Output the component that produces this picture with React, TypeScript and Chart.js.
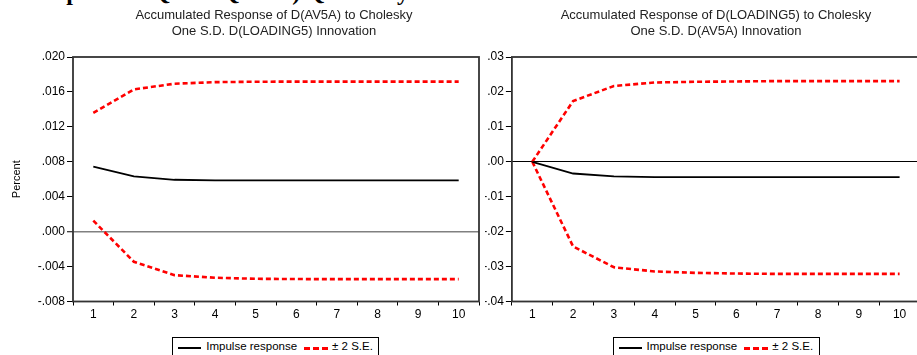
import React, { useEffect, useRef } from 'react';
import { Chart, registerables } from 'chart.js';

Chart.register(...registerables);

const categories = ['1', '2', '3', '4', '5', '6', '7', '8', '9', '10'];

const leftImpulse = [0.00744, 0.00632, 0.00594, 0.00588, 0.00587, 0.00586, 0.00586, 0.00586, 0.00586, 0.00586];
const leftUpper = [0.01361, 0.01629, 0.01694, 0.01712, 0.01717, 0.01718, 0.01718, 0.01718, 0.01718, 0.01718];
const leftLower = [0.00126, -0.00345, -0.00498, -0.00528, -0.0054, -0.00543, -0.00544, -0.00544, -0.00544, -0.00544];

const rightImpulse = [0, -0.00336, -0.0042, -0.0044, -0.0044, -0.0044, -0.0044, -0.0044, -0.0044, -0.0044];
const rightUpper = [0, 0.0174, 0.0217, 0.0227, 0.0229, 0.023, 0.0231, 0.0231, 0.0231, 0.0231];
const rightLower = [0, -0.02425, -0.0302, -0.0314, -0.0318, -0.032, -0.0321, -0.0321, -0.0321, -0.0321];

const leftTitle = ['Accumulated Response of D(AV5A) to Cholesky', 'One S.D. D(LOADING5) Innovation'];
const rightTitle = ['Accumulated Response of D(LOADING5) to Cholesky', 'One S.D. D(AV5A) Innovation'];
const legendLabels = ['Impulse response', '\u00b1 2 S.E.'];
const yAxisTitle = 'Percent';
const topText = 'Impulse to Q and Q total) Quarterly';

const SANS = "Arial, 'Liberation Sans', sans-serif";

const boxPlugin = {
  id: 'plotBox',
  afterDatasetsDraw(chart: any) {
    const { ctx, chartArea: a } = chart;
    ctx.save();
    ctx.strokeStyle = '#333';
    ctx.lineWidth = 1.8;
    ctx.strokeRect(a.left, a.top, a.right - a.left, a.bottom - a.top);
    ctx.restore();
  },
};

function fmt(v: number, d: number) {
  let s = Math.abs(v) < 1e-12 ? (0).toFixed(d) : v.toFixed(d);
  return s.replace('0.', '.');
}

type PanelProps = {
  x: number;
  width: number;
  axisWidth: number;
  padRight: number;
  min: number;
  max: number;
  step: number;
  decimals: number;
  impulse: number[];
  upper: number[];
  lower: number[];
  zeroColor: string;
  zeroWidth: number;
  showTitle: boolean;
};

function Panel(p: PanelProps) {
  const ref = useRef<HTMLCanvasElement | null>(null);
  useEffect(() => {
    const red = '#ff0000';
    const chart = new Chart(ref.current as HTMLCanvasElement, {
      type: 'line',
      data: {
        labels: categories,
        datasets: [
          { data: p.impulse, borderColor: '#000', borderWidth: 1.8, pointRadius: 0, tension: 0, fill: false },
          { data: p.upper, borderColor: red, borderWidth: 2.6, borderDash: [5, 3], pointRadius: 0, tension: 0, fill: false },
          { data: p.lower, borderColor: red, borderWidth: 2.6, borderDash: [5, 3], pointRadius: 0, tension: 0, fill: false },
        ],
      },
      options: {
        animation: false,
        responsive: false,
        maintainAspectRatio: false,
        layout: { padding: { top: 57, right: p.padRight, bottom: 0, left: 0 } },
        plugins: { legend: { display: false }, tooltip: { enabled: false }, title: { display: false } },
        scales: {
          x: {
            type: 'category',
            offset: true,
            grid: { offset: true, drawOnChartArea: false, tickLength: 4, color: '#000', tickColor: '#000', lineWidth: 1 },
            border: { display: false },
            ticks: { padding: 2, color: '#000', font: { family: SANS, size: 12 }, maxRotation: 0, autoSkip: false },
            afterFit: (s: any) => { s.height = 53.5; },
          },
          y: {
            min: p.min,
            max: p.max,
            border: { display: false },
            grid: {
              drawOnChartArea: true,
              color: (c: any) => (c.tick && Math.abs(c.tick.value) < 1e-9 ? p.zeroColor : 'rgba(0,0,0,0)'),
              lineWidth: (c: any) => (c.tick && Math.abs(c.tick.value) < 1e-9 ? p.zeroWidth : 1),
              tickColor: '#000',
              tickWidth: 1,
              tickLength: 6,
            },
            ticks: {
              stepSize: p.step,
              padding: 2,
              color: '#000',
              font: { family: SANS, size: 12 },
              callback: (v: any) => fmt(Number(v), p.decimals),
            },
            title: {
              display: p.showTitle,
              text: yAxisTitle,
              color: '#000',
              font: { family: SANS, size: 11 },
              padding: { top: 10, bottom: 0 },
            },
            afterFit: (s: any) => { s.width = p.axisWidth; },
          },
        },
      } as any,
      plugins: [boxPlugin],
    });
    return () => chart.destroy();
  }, []);
  return (
    <canvas
      ref={ref}
      width={p.width}
      height={355}
      style={{ position: 'absolute', left: p.x, top: 0, display: 'block', width: p.width, height: 355 }}
    />
  );
}

function Title({ lines, center }: { lines: string[]; center: number }) {
  return (
    <div
      style={{
        position: 'absolute',
        left: center - 200,
        width: 400,
        top: 6.7,
        textAlign: 'center',
        fontFamily: SANS,
        fontSize: 13,
        color: '#222',
        whiteSpace: 'nowrap',
      }}
    >
      {lines.map((l, i) => (
        <div key={i} style={{ lineHeight: '16.5px' }}>{l}</div>
      ))}
    </div>
  );
}

function Legend({ center }: { center: number }) {
  return (
    <div
      style={{
        position: 'absolute',
        left: center - 103.5,
        top: 336.7,
        width: 205,
        height: 26,
        border: '1px solid #000',
        boxSizing: 'content-box',
        background: '#fff',
        fontFamily: SANS,
        fontSize: 11.5,
        color: '#000',
      }}
    >
      <div style={{ display: 'flex', alignItems: 'center', height: 15, marginTop: 1, whiteSpace: 'nowrap' }}>
        <div style={{ width: 23, height: 2, background: '#000', marginLeft: 5, marginTop: 4 }} />
        <span style={{ marginLeft: 5 }}>{legendLabels[0]}</span>
        <div
          style={{
            width: 24,
            height: 3,
            marginLeft: 7,
            marginTop: 4,
            background: 'repeating-linear-gradient(90deg, #ff0000 0px, #ff0000 6px, rgba(0,0,0,0) 6px, rgba(0,0,0,0) 9px)',
          }}
        />
        <span style={{ marginLeft: 4 }}>{legendLabels[1]}</span>
      </div>
    </div>
  );
}

export default function App() {
  return (
    <div
      style={{
        position: 'absolute',
        left: 0,
        top: 0,
        width: 917,
        height: 355,
        overflow: 'hidden',
        background: '#fff',
      }}
    >
      <div
        style={{
          position: 'absolute',
          left: 37,
          top: -19.6,
          fontFamily: "'Liberation Serif', 'Times New Roman', serif",
          fontWeight: 'bold',
          fontSize: 24,
          lineHeight: '24px',
          whiteSpace: 'nowrap',
          color: '#000',
        }}
      >
        {topText}
      </div>
      <Panel
        x={0}
        width={485}
        axisWidth={73}
        padRight={6}
        min={-0.008}
        max={0.02}
        step={0.004}
        decimals={3}
        impulse={leftImpulse}
        upper={leftUpper}
        lower={leftLower}
        zeroColor="#808080"
        zeroWidth={1.5}
        showTitle={true}
      />
      <Panel
        x={485}
        width={442}
        axisWidth={26.9}
        padRight={7}
        min={-0.04}
        max={0.03}
        step={0.01}
        decimals={2}
        impulse={rightImpulse}
        upper={rightUpper}
        lower={rightLower}
        zeroColor="#000"
        zeroWidth={1}
        showTitle={false}
      />
      <Title lines={leftTitle} center={274} />
      <Title lines={rightTitle} center={716} />
      <Legend center={275.8} />
      <Legend center={716} />
    </div>
  );
}
